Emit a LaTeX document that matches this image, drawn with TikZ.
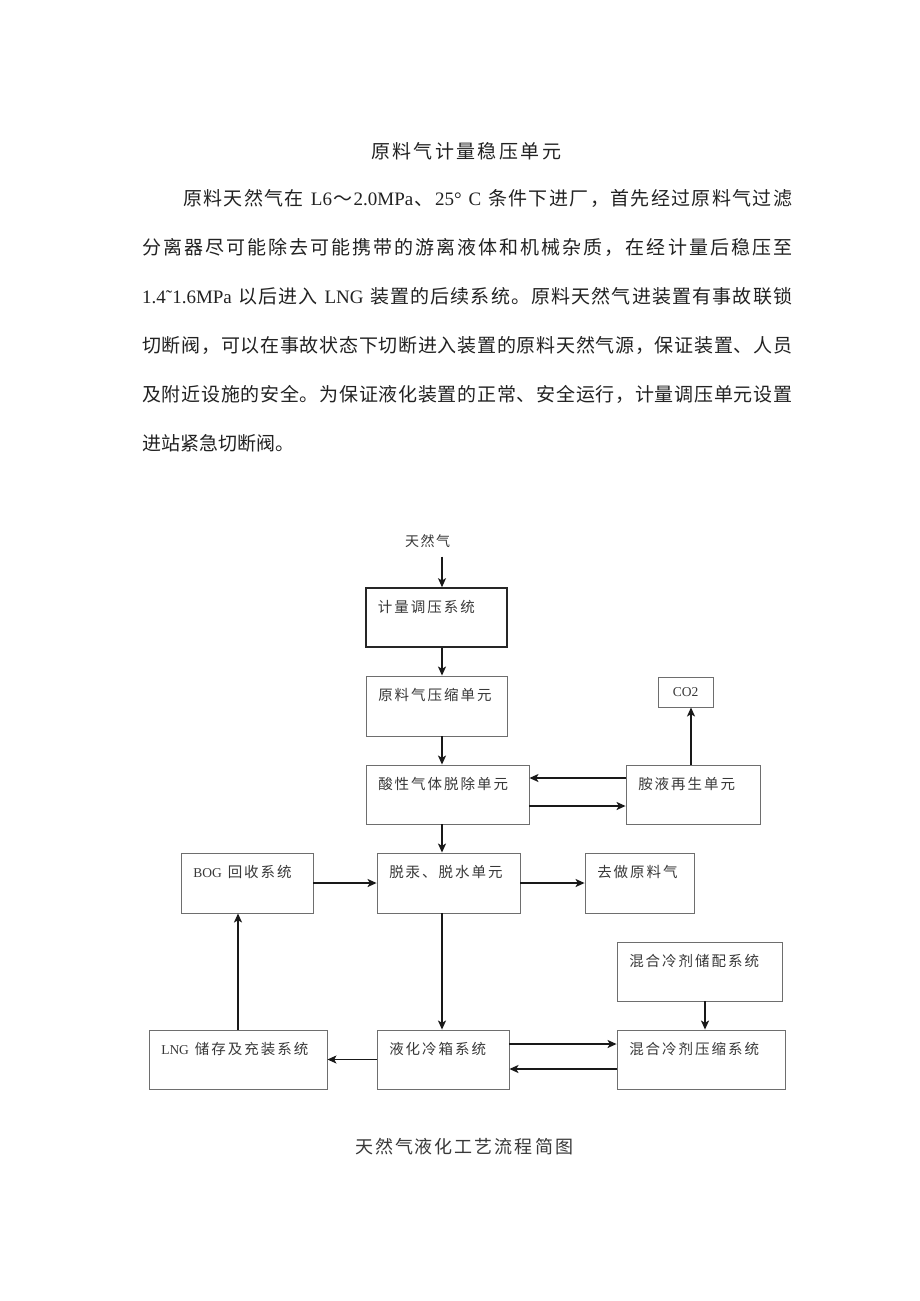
\documentclass[tikz,border=0pt]{standalone}
\usepackage{fontspec}
\setmainfont{Noto Sans CJK SC}
\newfontfamily\latf{Liberation Serif}
\usetikzlibrary{arrows.meta}
\newcommand\ltn[1]{{\latf #1}}
\newcommand\ltnS[1]{{\fontsize{13.5}{16}\selectfont\latf #1}}
\makeatletter
\newcommand\tr[2]{\@tfor\tr@x:=#2\do{\tr@x\hskip#1\relax}\unskip}
\makeatother
\newcommand\spreadto[2]{\hbox to #1{\tr{0pt plus 1fil}{#2}}}
\newcommand\lblfont{\fontsize{14.5}{17}\selectfont}
\newcommand\natfont{\fontsize{14}{17}\selectfont}
\newcommand\capfont{\fontsize{18}{21}\selectfont}
\newcommand\bodyfont{\fontsize{19}{23}\selectfont}
\definecolor{boxgray}{HTML}{6E6E6E}
\definecolor{txt}{HTML}{383838}
\definecolor{ink}{HTML}{222222}
\newcommand\flowbox[7][box]{%
  \node[#1, minimum width={(#5-#3)*1pt}, minimum height={(#6-#4)*1pt}] (#2) at ({(#3+#5)/2},{(#4+#6)/2}) {};
  \node[lbl] (#2-t) at ([shift={(12.5pt,-19.5pt)}]#2.north west) {\tr{2pt}{#7}};
}
\tikzset{
  box/.style={draw=boxgray, line width=0.9pt, rectangle, inner sep=0pt},
  boxk/.style={draw=black!85, line width=1.6pt, rectangle, inner sep=0pt},
  lbl/.style={anchor=west, inner sep=0pt, text=txt, font=\lblfont},
  body/.style={anchor=west, inner sep=0pt, text=ink, font=\bodyfont},
  arr/.style={draw=black!90, line width=1.4pt, -{Stealth[length=9pt,width=8pt,inset=2.2pt]}},
}
\begin{document}
\begin{tikzpicture}[x=1pt, y=-1pt]
\fill[white] (0,0) rectangle (920,1301);
\useasboundingbox (0,0) rectangle (920,1301);

% title and paragraph
\node[body, anchor=center] (title) at (466,151) {\spreadto{190pt}{原料气计量稳压单元}};
\node[body] (p1) at (183,198) {\spreadto{609pt}{原料天然气在{\ }{\ltn{L6}}～{\ltn{2.0MPa}}、{\ltn{25°}}{\ }{\ltn{C}}{\ }条件下进厂，首先经过原料气过滤}};
\node[body] (p2) at (142,247) {\spreadto{650pt}{分离器尽可能除去可能携带的游离液体和机械杂质，在经计量后稳压至}};
\node[body] (p3) at (142,296) {\spreadto{650pt}{{\ltn{1.4˜1.6MPa}}{\ }以后进入{\ }{\ltn{LNG}}{\ }装置的后续系统。原料天然气进装置有事故联锁}};
\node[body] (p4) at (142,345) {\spreadto{650pt}{切断阀，可以在事故状态下切断进入装置的原料天然气源，保证装置、人员}};
\node[body] (p5) at (142,394) {\spreadto{650pt}{及附近设施的安全。为保证液化装置的正常、安全运行，计量调压单元设置}};
\node[body] (p6) at (142,443) {进站紧急切断阀。};

% diagram
\coordinate (spine) at (442,0);
\coordinate (cx) at (691,0);
\coordinate (mx) at (705,0);
\node[lbl, anchor=center, font=\natfont] (nat) at (427.5,541) {\tr{1.5pt}{天然气}};

\flowbox[boxk]{jl}{366}{588}{507}{647}{计量调压系统}
\flowbox{ys}{366}{676}{507}{736}{原料气压缩单元}
\flowbox{sx}{366}{765}{529}{824}{酸性气体脱除单元}
\flowbox{ay}{626}{765}{760}{824}{胺液再生单元}
\node[box, minimum width=55pt, minimum height=30pt] (co) at (685.5,692) {};
\node[lbl, anchor=center] (co-t) at (co.center) {\ltnS{CO2}};
\flowbox{bog}{181}{853}{313}{913}{{\ltnS{BOG}\kern4pt}回收系统}
\flowbox{tg}{377}{853}{520}{913}{脱汞、脱水单元}
\flowbox{qz}{585}{853}{694}{913}{去做原料气}
\flowbox{hc}{617}{942}{782}{1001}{混合冷剂储配系统}
\flowbox{hy}{617}{1030}{785}{1089}{混合冷剂压缩系统}
\flowbox{yh}{377}{1030}{509}{1089}{液化冷箱系统}
\flowbox{lng}{149}{1030}{327}{1089}{{\ltnS{LNG}\kern4pt}储存及充装系统}

% connectors
\draw[arr, shorten <=9pt] (nat.south -| spine) -- (jl.north -| spine);
\draw[arr] (jl.south -| spine) -- (ys.north -| spine);
\draw[arr] (ys.south -| spine) -- (sx.north -| spine);
\draw[arr] (sx.south -| spine) -- (tg.north -| spine);
\draw[arr] (tg.south -| spine) -- (yh.north -| spine);
\draw[arr] ([yshift=16.5pt]ay.west) -- ([yshift=16.5pt]sx.east);
\draw[arr] ([yshift=-11.5pt]sx.east) -- ([yshift=-11.5pt]ay.west);
\draw[arr] (ay.north -| cx) -- (co.south -| cx);
\draw[arr] (bog.east) -- (tg.west);
\draw[arr] (tg.east) -- (qz.west);
\draw[arr] (hc.south -| mx) -- (hy.north -| mx);
\draw[arr] ([yshift=15.5pt]yh.east) -- ([yshift=15.5pt]hy.west);
\draw[arr] ([yshift=-9.5pt]hy.west) -- ([yshift=-9.5pt]yh.east);
\draw[arr] (yh.west) -- (lng.east);
\draw[arr] (lng.north) -- (lng.north |- bog.south);

\node[lbl, anchor=center, font=\capfont] (cap) at (464,1147) {\tr{2pt}{天然气液化工艺流程简图}};
\end{tikzpicture}
\end{document}
